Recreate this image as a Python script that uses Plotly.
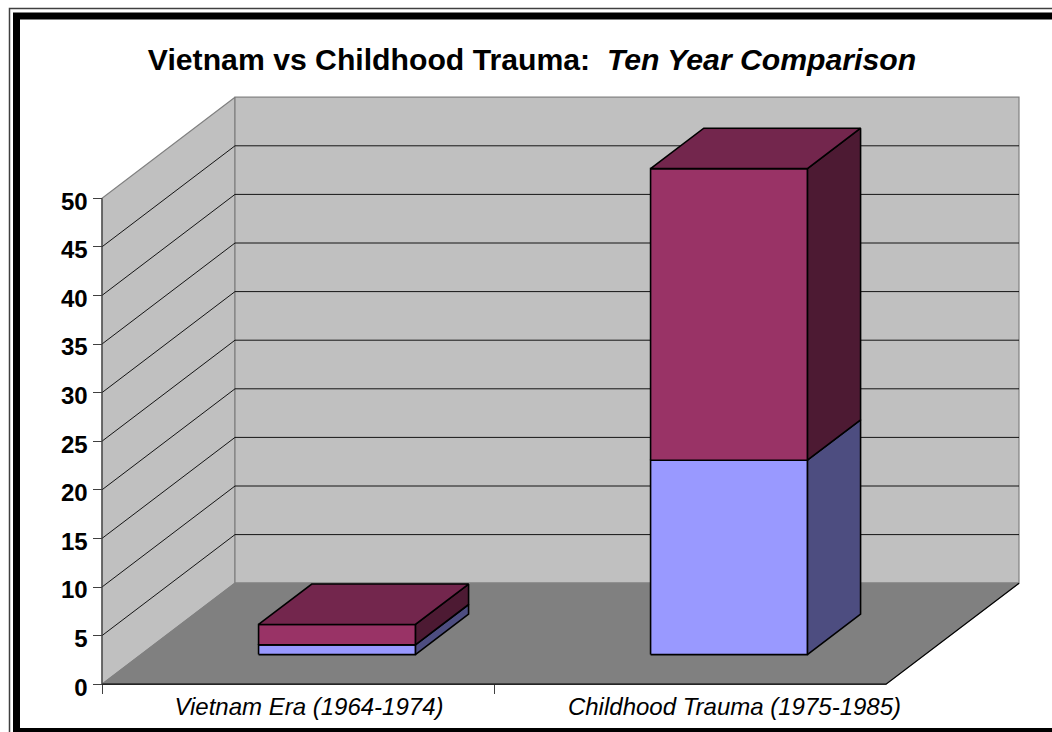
import plotly.graph_objects as go

# --- data ---
categories = ["Vietnam Era (1964-1974)", "Childhood Trauma (1975-1985)"]
category_label_positions = [0.528, 1.6135]
lower_values = [1, 20]
upper_values = [2.1, 30]
value_ticks = [0, 5, 10, 15, 20, 25, 30, 35, 40, 45, 50]
title_text = "<b>Vietnam vs Childhood Trauma:  <i>Ten Year Comparison</i></b>"

# --- styles ---
W, H = 1052, 732
PX_X0, PX_PER_CAT = 102, 392
PX_Y0, PX_PER_VAL = 684.2, 9.72
DEPTH_X = 133 / PX_PER_CAT          # oblique depth in category units
DEPTH_Y = 101 / PX_PER_VAL          # oblique depth in value units
BAR_W = 0.4
BAR_FRONT, BAR_DEPTH = 0.293, 0.4
FONT = "Liberation Sans, Arial, sans-serif"
LOWER = ("#9999FF", "#4D4D80", "#7373BF")
UPPER = ("#993366", "#4D1A33", "#73264D")
WALL, FLOOR, EDGE = "#C0C0C0", "#808080", "#808080"

n = len(categories)
vmax = value_ticks[-1]


def proj(x, v, d):
    """Oblique projection: d is depth from 0 (front) to 1 (back)."""
    return x + d * DEPTH_X, v + d * DEPTH_Y


def poly(points, fill, line, width=1.0):
    xs, ys = zip(*[proj(*p) for p in points])
    close = fill is not None
    return go.Scatter(
        x=list(xs) + ([xs[0]] if close else []),
        y=list(ys) + ([ys[0]] if close else []),
        mode="lines",
        fill="toself" if close else "none",
        fillcolor=fill,
        line=dict(color=line, width=width),
        hoverinfo="skip",
        showlegend=False,
    )


traces = []
# walls and floor
traces.append(poly([(0, 0, 0), (0, 0, 1), (0, vmax, 1), (0, vmax, 0)], WALL, EDGE, 1.2))
traces.append(poly([(0, 0, 1), (n, 0, 1), (n, vmax, 1), (0, vmax, 1)], WALL, EDGE, 1.2))
traces.append(poly([(0, 0, 0), (n, 0, 0), (n, 0, 1), (0, 0, 1)], FLOOR, EDGE, 1.2))
# gridlines
for v in value_ticks[1:-1]:
    traces.append(poly([(0, v, 0), (0, v, 1), (n, v, 1)], None, "#000000", 0.9))
# floor front and right edges, left axis line
traces.append(poly([(0, 0, 0), (n, 0, 0), (n, 0, 1)], None, "#000000", 1.2))
traces.append(poly([(0, 0, 0), (0, vmax, 0)], None, "#404040", 1.2))


def box(i, v0, v1, colors):
    front, side, top = colors
    x0 = i + 0.5 - BAR_W / 2
    x1 = i + 0.5 + BAR_W / 2
    d0, d1 = BAR_FRONT, BAR_FRONT + BAR_DEPTH
    out = [
        poly([(x1, v0, d0), (x1, v0, d1), (x1, v1, d1), (x1, v1, d0)], side, "#000000", 1.6),
        poly([(x0, v0, d0), (x1, v0, d0), (x1, v1, d0), (x0, v1, d0)], front, "#000000", 1.6),
    ]
    return out, poly([(x0, v1, d0), (x1, v1, d0), (x1, v1, d1), (x0, v1, d1)], top, "#000000", 1.6)


for i in range(n):
    low, _ = box(i, 0, lower_values[i], LOWER)
    up, lid = box(i, lower_values[i], lower_values[i] + upper_values[i], UPPER)
    traces += low + up + [lid]

fig = go.Figure(traces)

fig.update_layout(
    width=W,
    height=H,
    margin=dict(l=0, r=0, t=0, b=0),
    paper_bgcolor="#FFFFFF",
    plot_bgcolor="#FFFFFF",
    font=dict(family=FONT, color="#000000"),
    showlegend=False,
    title=dict(
        text=title_text,
        font=dict(family=FONT, size=30.2, color="#000000"),
        x=532 / W,
        xanchor="center",
        y=1 - 59 / H,
        yanchor="middle",
    ),
    xaxis=dict(
        range=[-PX_X0 / PX_PER_CAT, (W - PX_X0) / PX_PER_CAT],
        domain=[0, 1],
        anchor="free",
        position=(H - PX_Y0) / H,
        tickmode="array",
        tickvals=category_label_positions,
        ticktext=[f"<i>{c}</i>" for c in categories],
        tickfont=dict(family=FONT, size=24, color="#000000"),
        ticks="",
        ticklabelstandoff=6,
        showgrid=False,
        zeroline=False,
        showline=False,
        minor=dict(tickmode="array", tickvals=list(range(n)), ticks="outside",
                   ticklen=9, tickwidth=1, tickcolor="#404040", showgrid=False),
    ),
    yaxis=dict(
        range=[(PX_Y0 - H) / PX_PER_VAL, PX_Y0 / PX_PER_VAL],
        domain=[0, 1],
        anchor="free",
        position=(PX_X0 - 0.5) / W,
        tickmode="array",
        tickvals=value_ticks,
        ticktext=[f"<b>{v}</b>" for v in value_ticks],
        tickfont=dict(family=FONT, size=24, color="#000000"),
        ticks="outside",
        ticklen=9,
        tickwidth=1,
        tickcolor="#404040",
        ticklabelshift=3,
        showgrid=False,
        zeroline=False,
        showline=False,
    ),
    shapes=[
        dict(type="rect", xref="paper", yref="paper", layer="above",
             x0=9.5 / W, x1=1.02, y0=-0.02, y1=1 - 8.5 / H,
             line=dict(color="#404040", width=1.5), fillcolor="rgba(0,0,0,0)"),
        dict(type="rect", xref="paper", yref="paper", layer="above",
             x0=16.5 / W, x1=1.02, y0=1 - 731.5 / H, y1=1 - 16 / H,
             line=dict(color="#000000", width=7), fillcolor="rgba(0,0,0,0)"),
    ],
)

fig.write_html(
    "out.html",
    config={"displayModeBar": False},
    post_script="document.body.style.margin='0';document.body.style.overflow='hidden';",
)
